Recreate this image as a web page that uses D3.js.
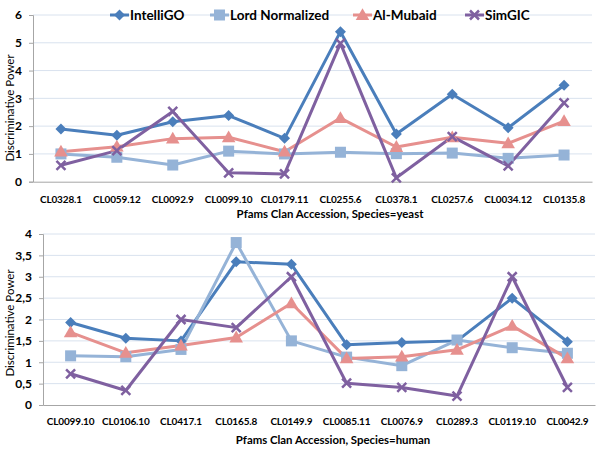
<!DOCTYPE html>
<html><head><meta charset="utf-8">
<script src="https://cdn.jsdelivr.net/npm/d3@7"></script>
<style>body{margin:0;background:#fff}svg{display:block}</style>
</head><body><svg id="c" width="600" height="450"></svg>
<script>
const seriesNames = ["IntelliGO","Lord Normalized","Al-Mubaid","SimGIC"];
const colors = ["#4A7EBB","#95B3D7","#E6908E","#7F60A0"];
const yeastCats = ["CL0328.1","CL0059.12","CL0092.9","CL0099.10","CL0179.11","CL0255.6","CL0378.1","CL0257.6","CL0034.12","CL0135.8"];
const yeastIntelliGO = [1.90,1.67,2.16,2.38,1.56,5.40,1.72,3.15,1.94,3.47];
const yeastLord      = [1.00,0.88,0.60,1.10,1.00,1.06,1.01,1.03,0.84,0.96];
const yeastAlMubaid  = [1.08,1.26,1.55,1.60,1.08,2.29,1.25,1.60,1.38,2.18];
const yeastSimGIC    = [0.59,1.12,2.53,0.32,0.28,4.98,0.14,1.62,0.57,2.84];
const yeastTicks = [0,1,2,3,4,5,6];
const humanCats = ["CL0099.10","CL0106.10","CL0417.1","CL0165.8","CL0149.9","CL0085.11","CL0076.9","CL0289.3","CL0119.10","CL0042.9"];
const humanIntelliGO = [1.93,1.56,1.50,3.35,3.29,1.41,1.46,1.50,2.50,1.48];
const humanLord      = [1.15,1.13,1.30,3.80,1.50,1.12,0.92,1.52,1.34,1.21];
const humanAlMubaid  = [1.70,1.22,1.39,1.58,2.38,1.09,1.13,1.29,1.85,1.09];
const humanSimGIC    = [0.73,0.34,2.00,1.81,3.00,0.51,0.41,0.21,3.00,0.41];
const humanTicks = [0,0.5,1,1.5,2,2.5,3,3.5,4];
const yTitle = "Discriminative Power";
const xTitleYeast = "Pfams Clan Accession, Species=yeast";
const xTitleHuman = "Pfams Clan Accession, Species=human";

const svg = d3.select("#c");
const FONT = "Lato, 'Liberation Sans', sans-serif";
const fmt = v => String(v).replace(".", ",");

function marker(g, type, color, x, y) {
  if (type === 0) {
    g.append("path").attr("d", `M${x},${y-5.5}L${x+5.5},${y}L${x},${y+5.5}L${x-5.5},${y}Z`).attr("fill", color);
  } else if (type === 1) {
    g.append("rect").attr("x", x-5.5).attr("y", y-5.5).attr("width", 11).attr("height", 11).attr("fill", color);
  } else if (type === 2) {
    g.append("path").attr("d", d3.symbol(d3.symbolTriangle, 80)()).attr("transform", `translate(${x},${y+1})`).attr("fill", color);
  } else {
    g.append("path").attr("d", `M${x-4.5},${y-4.5}L${x+4.5},${y+4.5}M${x-4.5},${y+4.5}L${x+4.5},${y-4.5}`).attr("stroke", color).attr("stroke-width", 2.5);
  }
}

function chart(cfg) {
  const x = d3.scaleBand().domain(cfg.cats).range([cfg.left, cfg.right]);
  const y = d3.scaleLinear().domain([0, cfg.max]).range([cfg.bottom, cfg.top]);
  const g = svg.append("g");
  g.selectAll("line.grid").data(cfg.ticks.filter(t => t > 0)).join("line")
    .attr("x1", cfg.left).attr("x2", cfg.right).attr("y1", d => y(d)).attr("y2", d => y(d))
    .attr("stroke", "#D9E2EE").attr("stroke-width", 1);
  const ya = g.append("g").attr("transform", `translate(${cfg.left},0)`)
    .call(d3.axisLeft(y).tickValues(cfg.ticks).tickFormat(cfg.fmt).tickSize(4).tickPadding(7));
  ya.select(".domain").attr("stroke", "#A6A6A6");
  ya.selectAll(".tick line").attr("stroke", "#A6A6A6");
  ya.selectAll("text").attr("font-family", FONT).attr("font-size", 12).attr("font-weight", "bold").attr("fill", "#000");
  const xa = g.append("g").attr("transform", `translate(0,${cfg.bottom})`)
    .call(d3.axisBottom(x).tickSize(0).tickPadding(cfg.xpad));
  xa.select(".domain").attr("stroke", "#A6A6A6");
  xa.selectAll("text").attr("font-family", FONT).attr("font-size", 10).attr("letter-spacing", -0.15)
    .attr("font-weight", "bold").attr("fill", "#000");
  g.append("text").attr("x", cfg.xtx).attr("y", cfg.xty).attr("text-anchor", "middle")
    .attr("font-family", FONT).attr("font-size", 11.4).attr("font-weight", "bold").text(cfg.xtitle);
  g.append("text").attr("transform", `translate(${cfg.ytx},${cfg.yty}) rotate(-90)`).attr("text-anchor", "middle")
    .attr("font-family", FONT).attr("font-size", 11.5).text(yTitle);
  cfg.series.forEach((vals, i) => {
    const line = d3.line().x((d, j) => x(cfg.cats[j]) + x.bandwidth()/2).y(d => y(d));
    g.append("path").datum(vals).attr("d", line).attr("fill", "none")
      .attr("stroke", colors[i]).attr("stroke-width", 3).attr("stroke-linejoin", "round");
  });
  cfg.series.forEach((vals, i) => {
    vals.forEach((v, j) => marker(g, i, colors[i], x(cfg.cats[j]) + x.bandwidth()/2, y(v)));
  });
}

chart({cats: yeastCats, series: [yeastIntelliGO, yeastLord, yeastAlMubaid, yeastSimGIC],
  ticks: yeastTicks, max: 6, fmt: d => d, left: 33, right: 592, top: 15, bottom: 181.7,
  xpad: 14, xtitle: xTitleYeast, xtx: 330, xty: 218, ytx: 14, yty: 108});
chart({cats: humanCats, series: [humanIntelliGO, humanLord, humanAlMubaid, humanSimGIC],
  ticks: humanTicks, max: 4, fmt: fmt, left: 43, right: 595, top: 234, bottom: 405,
  xpad: 13, xtitle: xTitleHuman, xtx: 333, xty: 444, ytx: 14, yty: 323});

const legend = svg.append("g");
const legX = [110, 210, 353, 465];
seriesNames.forEach((n, i) => {
  legend.append("line").attr("x1", legX[i]).attr("x2", legX[i]+19).attr("y1", 15).attr("y2", 15)
    .attr("stroke", colors[i]).attr("stroke-width", 3);
  marker(legend, i, colors[i], legX[i]+9.5, 15);
  legend.append("text").attr("x", legX[i]+20).attr("y", 19.5).attr("font-family", FONT)
    .attr("font-size", 13.5).attr("font-weight", "bold").text(n);
});
</script></body></html>
